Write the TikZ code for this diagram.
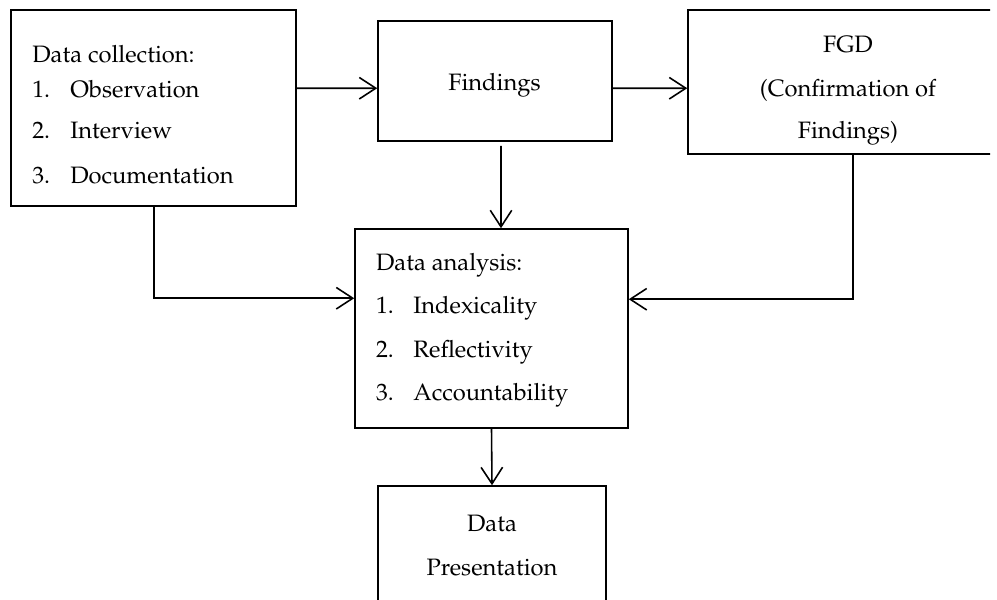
\documentclass[tikz,border=0pt]{standalone}
\usepackage[T1]{fontenc}
\usepackage{mathpazo}
\usetikzlibrary{arrows.meta,calc}
\tikzset{
  boxnode/.style={draw,line width=0.9pt,rectangle,inner sep=0pt,minimum width=#1},
  txt/.style={anchor=base west,inner sep=0pt,font=\fontsize{13.5}{16}\selectfont},
  ctxt/.style={anchor=base,inner sep=0pt,font=\fontsize{13.5}{16}\selectfont},
  arr/.style={line width=0.9pt,-{Straight Barb[length=3.3mm,width=4.3mm,line width=0.9pt]}},
  conn/.style={line width=0.9pt}
}
\begin{document}
\begin{tikzpicture}[x=0.02cm,y=-0.02cm]
\useasboundingbox (0,0) rectangle (997,599);
\clip (0,0) rectangle (990,599);
% boxes
\node[boxnode=5.7cm,minimum height=3.92cm] (dc) at (153.5,108) {};
\node[boxnode=4.68cm,minimum height=2.4cm] (fi) at (495,81) {};
\node[boxnode=6.8cm,minimum height=2.88cm] (fgd) at (858,82) {};
\node[boxnode=5.46cm,minimum height=3.98cm] (da) at (491.5,328.5) {};
\node[boxnode=4.56cm,minimum height=3.08cm] (dp) at (492,563) {};
% texts: data collection
\node[txt] (dc0) at (32,62) {Data collection:};
\node[txt] (dc1n) at (32,97) {1.};
\node[txt] (dc1) at (70,97) {Observation};
\node[txt] (dc2n) at (32,138) {2.};
\node[txt] (dc2) at (70,138) {Interview};
\node[txt] (dc3n) at (32,183) {3.};
\node[txt] (dc3) at (70,183) {Documentation};
% findings
\node[ctxt] (fit) at (494.5,90.7) {Findings};
% FGD
\node[ctxt] (fg0) at (848,52.3) {FGD};
\node[ctxt] (fg1) at (848,96) {(Confirmation of};
\node[ctxt] (fg2) at (848,138) {Findings)};
% data analysis
\node[txt] (da0) at (375.7,270.7) {Data analysis:};
\node[txt] (da1n) at (375.7,313) {1.};
\node[txt] (da1) at (413,313) {Indexicality};
\node[txt] (da2n) at (375.7,357) {2.};
\node[txt] (da2) at (413,357) {Reflectivity};
\node[txt] (da3n) at (375.7,400.7) {3.};
\node[txt] (da3) at (413,400.7) {Accountability};
% data presentation
\node[ctxt] (dp0) at (492,531.7) {Data};
\node[ctxt] (dp1) at (492,575) {Presentation};
% connectors
\draw[arr] ($(dc.north east)+(0,79)$) -- ($(fi.north west)+(0,68)$);
\draw[arr] ($(fi.north east)+(0,68)$) -- ($(fgd.north west)+(0,79)$);
\draw[arr] ($(fi.south)+(6,4)$) -- ($(da.north)+(9.5,0)$);
\draw[arr] ($(dc.south west)+(144,0)$) |- ($(da.north west)+(0,70)$);
\draw[arr] ($(fgd.south west)+(166,0)$) |- ($(da.north east)+(0,71)$);
\draw[arr] (da.south) -- (dp.north);
\end{tikzpicture}
\end{document}
